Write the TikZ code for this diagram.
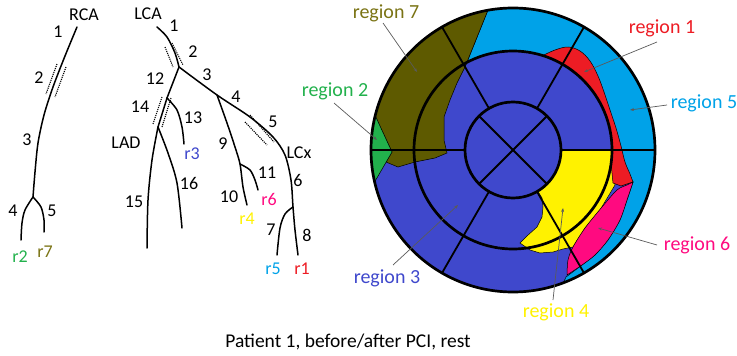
\documentclass[tikz,border=0pt]{standalone}
\usepackage{fontspec}
\setmainfont{Carlito}
\usetikzlibrary{arrows.meta}
\definecolor{segA}{HTML}{ED1C24}
\definecolor{segB}{HTML}{22B14C}
\definecolor{segC}{HTML}{3F48CC}
\definecolor{segD}{HTML}{FFF200}
\definecolor{segE}{HTML}{00A2E8}
\definecolor{segF}{HTML}{FF0A80}
\definecolor{segG}{HTML}{5E5A00}
\definecolor{segGtext}{HTML}{7A7314}
\definecolor{pointgray}{HTML}{5A5A5A}
\begin{document}
\begin{tikzpicture}[x=1pt,y=-1pt,
  vessel/.style={line width=1.5pt, line cap=round},
  stent/.style={densely dotted, line width=1.1pt},
  num/.style={font=\fontsize{18}{20}\selectfont, inner sep=0pt},
  reglabel/.style={font=\fontsize{20}{22}\selectfont, inner sep=0pt},
  pointer/.style={draw=pointgray, line width=0.7pt, -{Stealth[length=4pt,width=3pt]}},
  ring/.style={line width=2.7pt},
  spoke/.style={line width=1.8pt},
  outline/.style={draw=black, line width=0.5pt}]
\useasboundingbox (0,0) rectangle (737,356);

% ---------------- RCA tree ----------------
\coordinate (rcaTop) at (77,27);
\coordinate (rcaFork) at (33,197);
\coordinate (rcaL) at (21,240);
\coordinate (rcaR) at (44,232);
\draw[vessel] plot[smooth] coordinates {(rcaTop) (65,56) (53,87) (44,115) (38,143) (35,172) (rcaFork)};
\draw[vessel] plot[smooth] coordinates {(rcaFork) (25,210) (22,223) (rcaL)};
\draw[vessel] plot[smooth] coordinates {(rcaFork) (41,207) (44,220) (rcaR)};
\draw[stent] (57,64) -- (46,94);
\draw[stent] (66,67) -- (55,97);
\node[num] (rcaName) at (84,15) {RCA};
\node[num] (rca1) at (58,32) {1};
\node[num] (rca2) at (39,78) {2};
\node[num] (rca3) at (27,140) {3};
\node[num] (rca4) at (13,211) {4};
\node[num] (rca5) at (52,211) {5};
\node[num, text=segB] (rcaR2) at (20,257) {r2};
\node[num, text=segGtext] (rcaR7) at (45,252) {r7};

% ---------------- LCA tree ----------------
\coordinate (lcaTop) at (157,27);
\coordinate (jA) at (179,67);
\coordinate (jB) at (217,95);
\coordinate (jC) at (293,207);
\coordinate (jD) at (167,98);
\coordinate (jE) at (158,127);
\coordinate (jF) at (240,164);
\draw[vessel] plot[smooth] coordinates {(lcaTop) (167,37) (175,53) (jA)};
\draw[vessel] plot[smooth] coordinates {(jA) (jB) (250,117) (273,137) (285,155) (291,180) (jC) (295,230) (298,255)};
\draw[vessel] plot[smooth] coordinates {(jC) (285,214) (280,228) (277,255)};
\draw[vessel] plot[smooth] coordinates {(jB) (227,123) (235,147) (jF) (243,187) (247,205)};
\draw[vessel] plot[smooth] coordinates {(jF) (250,170) (255,180) (258,190)};
\draw[vessel] (jA) -- (jD) -- (jE);
\draw[vessel] plot[smooth] coordinates {(jE) (152,160) (148,200) (147,248)};
\draw[vessel] plot[smooth] coordinates {(jE) (168,153) (177,183) (182,228)};
\draw[vessel] plot[smooth] coordinates {(jD) (177,110) (182,127) (184,144)};
\draw[stent] (165,47) -- (173,67);
\draw[stent] (172,43) -- (183,65);
\draw[stent] (162,97) -- (153,124);
\draw[stent] (171,98) -- (162,127);
\draw[stent] (245,122) -- (267,145);
\draw[stent] (250,115) -- (274,142);
\node[num] (lcaName) at (148,14) {LCA};
\node[num] (lca1) at (174,26) {1};
\node[num] (lca2) at (193,52) {2};
\node[num] (lca3) at (207,75) {3};
\node[num] (lca12) at (155,79) {12};
\node[num] (lca14) at (140,107) {14};
\node[num] (lca13) at (193,118) {13};
\node[num] (ladName) at (126,143) {LAD};
\node[num] (lca4) at (236,97) {4};
\node[num] (lca5) at (273,122) {5};
\node[num] (lca9) at (223,144) {9};
\node[num] (lcxName) at (299,153) {LCx};
\node[num] (lca11) at (267,173) {11};
\node[num] (lca6) at (298,180) {6};
\node[num] (lca10) at (229,197) {10};
\node[num] (lca15) at (134,202) {15};
\node[num] (lca16) at (189,183) {16};
\node[num] (lca7) at (271,230) {7};
\node[num] (lca8) at (307,235) {8};
\node[num, text=segC] (lcaR3) at (192,154) {r3};
\node[num, text=segF] (lcaR6) at (269,199) {r6};
\node[num, text=segD] (lcaR4) at (247,219) {r4};
\node[num, text=segE] (lcaR5) at (273,269) {r5};
\node[num, text=segA] (lcaR1) at (302,269) {r1};

% ---------------- bullseye ----------------
\coordinate (C) at (513,150);
\fill[segC] (C) circle[radius=142];
% region 5
\filldraw[fill=segE, outline] (465,67) -- (488,10) arc[start angle=-100, end angle=69, radius=142]
  -- (566,277) -- (582,265) -- (595,255) -- (608,240) -- (620,220) -- (628,197) -- (633,182)
  -- (612,150) arc[start angle=0, end angle=-120, radius=99] -- cycle;
% region 7
\filldraw[fill=segG, outline] (488,10) arc[start angle=-100, end angle=-166, radius=142]
  -- (392,152) -- (386,162) -- (398,167) -- (415,162) -- (435,158) -- (447,153)
  -- (444,140) -- (444,117) -- (450,100) -- (457,83) -- (465,67) -- cycle;
% region 2
\filldraw[fill=segB, outline] ([shift={(C)}]-166:142) arc[start angle=-166, end angle=-193, radius=142]
  -- (392,152) -- cycle;
% region 4
\filldraw[fill=segD, outline] (561,150) -- (613,150) -- (614,170) -- (615,185) -- (600,210) -- (585,228)
  -- (573,247) -- (563,249) -- (553,252) -- (540,253) -- (530,250) -- (520,243) -- (527,236)
  -- (537,227) -- (542,217) -- (543,207) -- (542,198) -- ([shift={(C)}]59:48)
  arc[start angle=59, end angle=0, radius=48] -- cycle;
% region 1
\filldraw[fill=segA, outline] plot[smooth, tension=0.6] coordinates {([shift={(C)}]-72.5:99) (555,50) (568,47) (580,51) (590,61) (598,76) (604,92) (610,110) (616,128) (621,146) (625,162) (630,174) (633,182)}
  -- (621,186) -- (613,183) -- ([shift={(C)}]8:99) arc[start angle=8, end angle=-72.5, radius=99] -- cycle;
% region 6
\filldraw[fill=segF, outline] plot[smooth] coordinates {(633,182) (628,197) (620,220) (608,240) (595,255) (582,265) (567,275)}
  -- plot[smooth] coordinates {(567,275) (568,260) (573,247) (585,228) (602,207) (617,190) (627,185) (633,182)} -- cycle;

% segment grid
\foreach \a in {0,60,...,300} \draw[spoke] ([shift={(C)}]\a:48) -- ([shift={(C)}]\a:142);
\foreach \a in {45,135,225,315} \draw[spoke] (C) -- ([shift={(C)}]\a:48);
\draw[ring] (C) circle[radius=48];
\draw[ring] (C) circle[radius=99];
\draw[ring] (C) circle[radius=142];

% labels and pointers
\node[reglabel, text=segGtext] (lab7) at (386,13) {region 7};
\node[reglabel, text=segB] (lab2) at (335,91) {region 2};
\node[reglabel, text=segA] (lab1) at (662,28) {region 1};
\node[reglabel, text=segE] (lab5) at (704,103) {region 5};
\node[reglabel, text=segF] (lab6) at (697,245) {region 6};
\node[reglabel, text=segD] (lab4) at (556,312) {region 4};
\node[reglabel, text=segC] (lab3) at (387,278) {region 3};
\coordinate (s7) at (383,23);  \coordinate (t7) at (417,72);
\coordinate (s2) at (334,103); \coordinate (t2) at (377,140);
\coordinate (s1) at (657,42);  \coordinate (t1) at (584,72);
\coordinate (s5) at (667,105); \coordinate (t5) at (630,110);
\coordinate (s6) at (657,245); \coordinate (t6) at (598,228);
\coordinate (s4) at (553,300); \coordinate (t4) at (563,208);
\coordinate (s3) at (393,265); \coordinate (t3) at (458,205);
\foreach \k in {7,2,1,5,6,4,3} \draw[pointer] (s\k) -- (t\k);

\node[font=\fontsize{19.5}{22}\selectfont, inner sep=0pt] (caption) at (348,342) {Patient 1, before/after PCI, rest};
\end{tikzpicture}
\end{document}
